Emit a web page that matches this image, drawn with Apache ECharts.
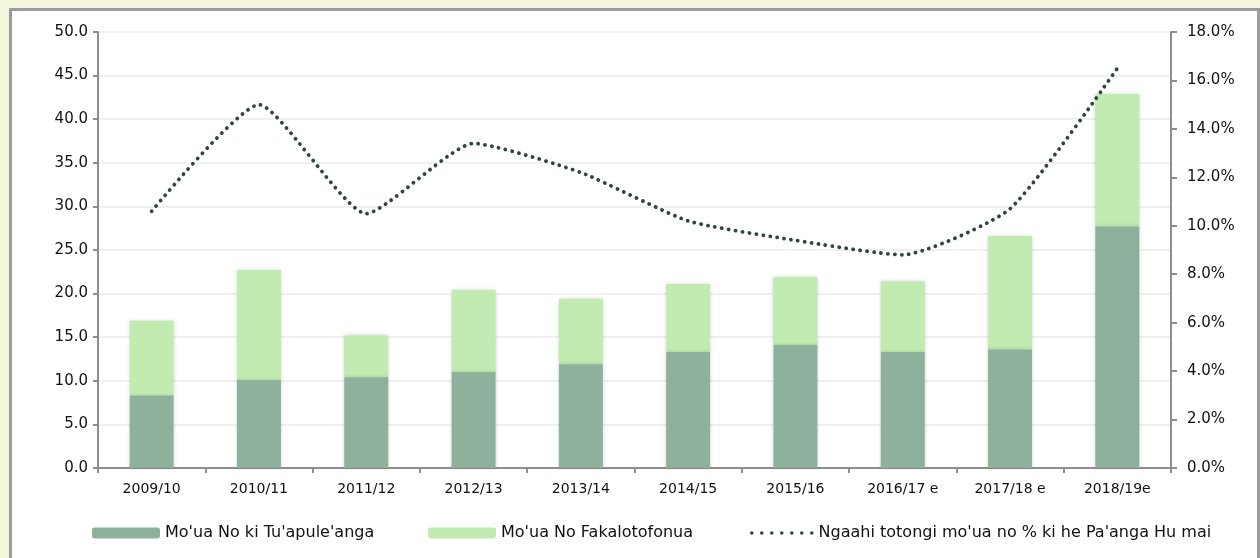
<!DOCTYPE html>
<html>
<head>
<meta charset="utf-8">
<script src="https://cdn.jsdelivr.net/npm/echarts@6/dist/echarts.min.js"></script>
<style>
  html, body { margin: 0; padding: 0; background: #f4f6dc; }
  .frame {
    position: absolute; left: 9px; top: 8px; width: 1245px; height: 560px;
    border: 3px solid #9c9c9c; background: #ffffff;
  }
  #chart { position: absolute; left: 0; top: 0; width: 1260px; height: 558px; }
</style>
</head>
<body>
<div class="frame"></div>
<div id="chart"></div>
<script>
const categories = ["2009/10", "2010/11", "2011/12", "2012/13", "2013/14",
  "2014/15", "2015/16", "2016/17 e", "2017/18 e", "2018/19e"];
// Mo'ua No ki Tu'apule'anga (external debt)
const externalDebt = [8.3, 10.1, 10.4, 11.0, 11.9, 13.3, 14.1, 13.3, 13.6, 27.7];
// Mo'ua No Fakalotofonua (domestic debt)
const domesticDebt = [8.6, 12.6, 4.8, 9.4, 7.5, 7.8, 7.8, 8.1, 13.0, 15.2];
// debt service as % of revenue
const servicePct = [10.6, 15.0, 10.5, 13.4, 12.2, 10.2, 9.4, 8.8, 10.7, 16.5];

const names = ["Mo'ua No ki Tu'apule'anga", "Mo'ua No Fakalotofonua",
  "Ngaahi totongi mo'ua no % ki he Pa'anga Hu mai"];

const font = "DejaVu Sans";
const axisGray = "#8e8e8e";
const lineColor = "#2e473a";
const barShadow = { shadowBlur: 4, shadowColor: "rgba(0,0,0,0.16)", shadowOffsetX: 0, shadowOffsetY: 0 };

// row of seven dots for the line's legend key
let dots = "path://";
for (let i = 0; i < 7; i++) {
  const cx = 1.8 + i * 10;
  dots += "M" + (cx - 1.8) + " 1.8a1.8 1.8 0 1 0 3.6 0a1.8 1.8 0 1 0 -3.6 0Z";
}

const legendText = { fontFamily: font, fontSize: 16, color: "#111" };

const chart = echarts.init(document.getElementById("chart"));
chart.setOption({
  backgroundColor: "transparent",
  textStyle: { fontFamily: font },
  grid: { left: 98, right: 89, top: 32, bottom: 90 },
  legend: [
    { data: [names[0]], left: 87, top: 520, itemWidth: 68, itemHeight: 11, textStyle: legendText },
    { data: [names[1]], left: 423, top: 520, itemWidth: 68, itemHeight: 11, textStyle: legendText },
    { data: [{ name: names[2], icon: dots }], left: 745, top: 520, itemWidth: 63.6, itemHeight: 3.6,
      textStyle: legendText },
  ],
  xAxis: {
    type: "category",
    data: categories,
    axisLine: { lineStyle: { color: axisGray, width: 2 } },
    axisTick: { show: true, length: 5, lineStyle: { color: axisGray, width: 2 } },
    axisLabel: { color: "#111", fontSize: 14, margin: 14, fontFamily: font },
  },
  yAxis: [
    {
      type: "value", min: 0, max: 50, interval: 5,
      axisLine: { show: true, lineStyle: { color: axisGray, width: 2 } },
      axisTick: { show: true, length: 5, lineStyle: { color: axisGray, width: 2 } },
      splitLine: { lineStyle: { color: "#f0f0f0", width: 2 } },
      axisLabel: { color: "#111", fontSize: 15, margin: 10, fontFamily: font,
        formatter: (v) => v.toFixed(1) },
    },
    {
      type: "value", min: 0, max: 18, interval: 2, position: "right",
      axisLine: { show: true, lineStyle: { color: axisGray, width: 2 } },
      axisTick: { show: true, length: 6, lineStyle: { color: axisGray, width: 2 } },
      splitLine: { show: false },
      axisLabel: { color: "#111", fontSize: 15, margin: 16, fontFamily: font,
        formatter: (v) => v.toFixed(1) + "%" },
    },
  ],
  series: [
    {
      name: names[0], type: "bar", stack: "debt", barWidth: 44, z: 3,
      data: externalDebt,
      itemStyle: Object.assign({ color: "#8db19b" }, barShadow),
    },
    {
      name: names[1], type: "bar", stack: "debt", barWidth: 44, z: 2,
      data: domesticDebt,
      itemStyle: Object.assign({ color: "#c1ebb0" }, barShadow),
    },
    {
      name: names[2], type: "line", yAxisIndex: 1, smooth: 0.18, z: 4,
      data: servicePct,
      symbol: "none",
      itemStyle: { color: lineColor },
      lineStyle: { color: lineColor, width: 3.8, type: [0.1, 6.9], cap: "round" },
    },
  ],
});
</script>
</body>
</html>
